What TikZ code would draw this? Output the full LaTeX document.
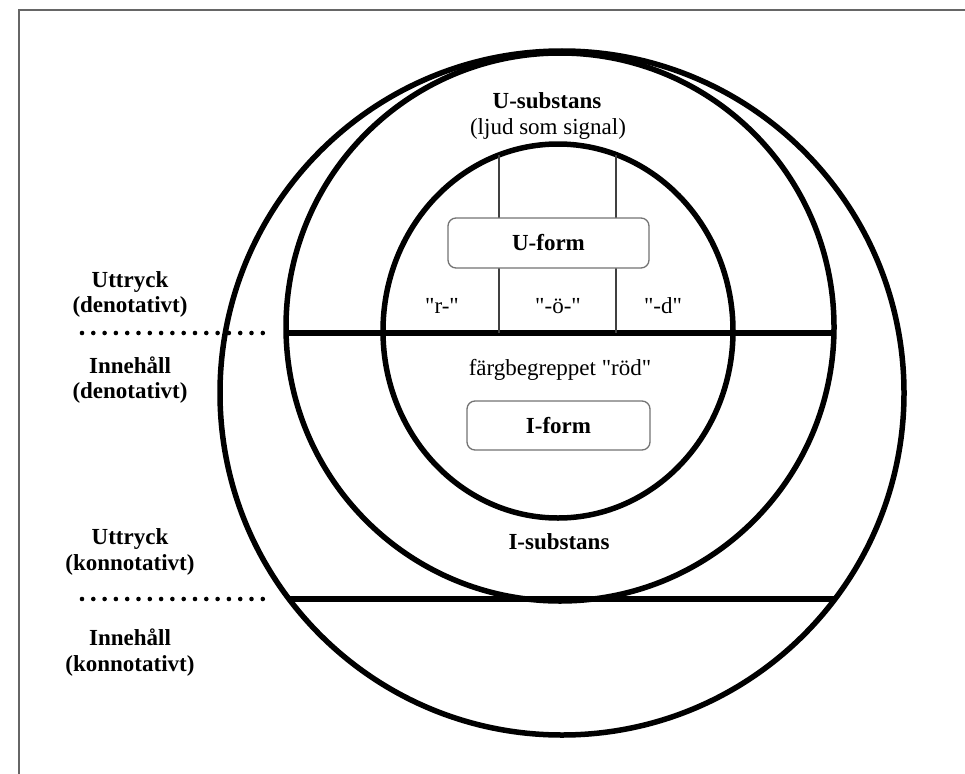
\documentclass[tikz,border=0pt]{standalone}
\usepackage{fontspec}
\setmainfont{Liberation Serif}[Ligatures=TeXOff]
\usetikzlibrary{shapes.geometric}
\begin{document}
\begin{tikzpicture}[x=1pt,y=-1pt,
  ring/.style={draw, ellipse, line width=5.5pt, inner sep=0pt},
  bar/.style={line width=5.3pt},
  thinline/.style={draw=black!75, line width=1.3pt},
  dots/.style={line width=4.6pt, line cap=round, dash pattern=on 0pt off 11.3pt},
  formbox/.style={draw=black!55, line width=1.3pt, rounded corners=8pt, fill=white,
    inner sep=0pt, font=\fontsize{23}{25}\selectfont\bfseries},
  lbl/.style={font=\fontsize{23}{25}\selectfont, inner sep=0pt, anchor=base},
  blbl/.style={font=\fontsize{23}{25}\selectfont\bfseries, inner sep=0pt, anchor=base}
]
\useasboundingbox (0,0) rectangle (965,773);
\draw[black!60, line width=1.2pt] (19,780) -- (19,10) -- (970,10);

% rings
\node[ring, minimum width=684pt, minimum height=684pt] (outer) at (562,393) {};
\node[ring, minimum width=548pt, minimum height=548pt] (middle) at (560,327) {};
\node[ring, minimum width=350pt, minimum height=374pt] (inner) at (558,331) {};

% horizontal dividing lines
\coordinate (uL) at (286,333);
\coordinate (uR) at (832,333);
\coordinate (lL) at (288,599);
\coordinate (lR) at (834,599);
\draw[bar] (uL) -- (uR);
\draw[bar] (lL) -- (lR);

% dotted extensions
\coordinate (duS) at (82,333);
\coordinate (duE) at (274,333);
\coordinate (dlS) at (82,599);
\coordinate (dlE) at (274,599);
\draw[dots] (duS) -- (duE);
\draw[dots] (dlS) -- (dlE);

% thin vertical lines
\coordinate (v1t) at (499,155);
\coordinate (v1b) at (499,333);
\coordinate (v2t) at (616,155);
\coordinate (v2b) at (616,333);
\draw[thinline] (v1t) -- (v1b);
\draw[thinline] (v2t) -- (v2b);

% boxes
\node[formbox, minimum width=201pt, minimum height=50pt] (uform) at (548.5,243) {U-form};
\node[formbox, minimum width=183pt, minimum height=49pt] (iform) at (558.5,425.5) {I-form};

% texts inside
\node[blbl] (usub) at (547,109) {U-substans};
\node[lbl] (ljud) at (548,134) {(ljud som signal)};
\node[lbl] (r) at (442,313) {"r-"};
\node[lbl] (o) at (558,313) {"-ö-"};
\node[lbl] (d) at (663,313) {"-d"};
\node[lbl] (farg) at (560,375) {färgbegreppet "röd"};
\node[blbl] (isub) at (559,549) {I-substans};

% left labels
\node[blbl] (ud1) at (130,287) {Uttryck};
\node[blbl] (ud2) at (130,312) {(denotativt)};
\node[blbl] (id1) at (130,373) {Innehåll};
\node[blbl] (id2) at (130,398) {(denotativt)};
\node[blbl] (uk1) at (130,544) {Uttryck};
\node[blbl] (uk2) at (130,570) {(konnotativt)};
\node[blbl] (ik1) at (130,645) {Innehåll};
\node[blbl] (ik2) at (130,671) {(konnotativt)};
\end{tikzpicture}
\end{document}
